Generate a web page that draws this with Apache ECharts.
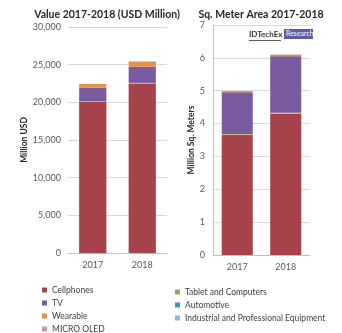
<!DOCTYPE html>
<html><head><meta charset="utf-8">
<script src="https://cdn.jsdelivr.net/npm/echarts@6/dist/echarts.min.js"></script>
<style>html,body{margin:0;padding:0;background:#fff}#c{width:342px;height:333px}</style>
</head><body><div id="c"></div>
<script>
const years = ['2017', '2018'];
const valueTicks = [0, 5000, 10000, 15000, 20000, 25000, 30000];
const areaTicks = [0, 1, 2, 3, 4, 5, 6, 7];
// Value (USD Million)
const valCellphones = [20100, 22500];
const valTablet = [80, 80];
const valTV = [1750, 2150];
const valWearable = [500, 700];
const valMicroOled = [0, 0];
const valAutomotive = [0, 0];
const valIndustrial = [0, 0];
// Area (Million Sq. Meters)
const areaCellphones = [3.65, 4.3];
const areaTablet = [0.03, 0.03];
const areaTV = [1.27, 1.72];
const areaWearable = [0.04, 0.05];
const areaMicroOled = [0, 0];
const areaAutomotive = [0, 0];
const areaIndustrial = [0, 0];

const names = ['Cellphones', 'Tablet and Computers', 'TV', 'Wearable', 'MICRO OLED', 'Automotive', 'Industrial and Professional Equipment'];
const colors = {
  'Cellphones': '#A5424A',
  'Tablet and Computers': '#C8B27A',
  'TV': '#7A5BA0',
  'Wearable': '#E3914A',
  'MICRO OLED': '#C49AA4',
  'Automotive': '#3E9BAE',
  'Industrial and Professional Equipment': '#93B7D0'
};
const legendColors = {'Tablet and Computers': '#8FA85A'};
const valData = [valCellphones, valTablet, valTV, valWearable, valMicroOled, valAutomotive, valIndustrial];
const areaData = [areaCellphones, areaTablet, areaTV, areaWearable, areaMicroOled, areaAutomotive, areaIndustrial];

const font = "Lato, 'Liberation Sans', sans-serif";
const series = [];
names.forEach((n, i) => {
  series.push({name: n, type: 'bar', stack: 'v', xAxisIndex: 0, yAxisIndex: 0, barWidth: '55%',
    data: valData[i], itemStyle: {color: colors[n]}});
  series.push({name: n, type: 'bar', stack: 'a', xAxisIndex: 1, yAxisIndex: 1, barWidth: '64%',
    data: areaData[i], itemStyle: {color: colors[n]}});
});

const chart = echarts.init(document.getElementById('c'));
const axisLbl = {color: '#595959', fontSize: 9, fontFamily: font};
const legendText = {color: '#404040', fontSize: 8.5, lineHeight: 10, fontFamily: font};
chart.setOption({
  animation: false,
  title: [
    {text: 'Value 2017-2018 (USD Million)', left: 102, top: 4, textAlign: 'center',
     textStyle: {fontSize: 10.5, fontWeight: 'bold', color: '#262626', fontFamily: font}},
    {text: 'Sq. Meter Area 2017-2018', left: 256, top: 4, textAlign: 'center',
     textStyle: {fontSize: 10.5, fontWeight: 'bold', color: '#262626', fontFamily: font}}
  ],
  legend: [
    {data: [
      {name: 'Cellphones'}, {name: 'TV'}, {name: 'Wearable'}, {name: 'MICRO OLED'}],
     orient: 'vertical', left: 37, top: 280, height: 60, itemWidth: 5, itemHeight: 5, itemGap: 3,
     textStyle: legendText, selectedMode: false, icon: 'rect'},
    {data: [
      {name: 'Tablet and Computers', itemStyle: {color: legendColors['Tablet and Computers']}},
      {name: 'Automotive'}, {name: 'Industrial and Professional Equipment'}],
     orient: 'vertical', left: 170, top: 282, height: 60, itemWidth: 5, itemHeight: 5, itemGap: 3,
     textStyle: legendText, selectedMode: false, icon: 'rect'}
  ],
  grid: [
    {left: 68, right: 175, top: 27, height: 226},
    {left: 213, right: 32, top: 25, height: 230}
  ],
  xAxis: [
    {type: 'category', gridIndex: 0, data: years, axisTick: {show: false},
     axisLine: {lineStyle: {color: '#BFBFBF'}}, axisLabel: Object.assign({margin: 8}, axisLbl)},
    {type: 'category', gridIndex: 1, data: years, axisTick: {show: false},
     axisLine: {lineStyle: {color: '#BFBFBF'}}, axisLabel: Object.assign({margin: 8}, axisLbl)}
  ],
  yAxis: [
    {type: 'value', gridIndex: 0, min: valueTicks[0], max: valueTicks[valueTicks.length - 1], interval: 5000,
     name: 'Million USD', nameLocation: 'middle', nameGap: 31, nameRotate: 90,
     nameTextStyle: {fontSize: 8.5, fontWeight: 'bold', color: '#262626', fontFamily: font},
     axisLine: {show: false}, axisTick: {show: false},
     splitLine: {lineStyle: {color: '#D9D9D9'}},
     axisLabel: Object.assign({margin: 7, formatter: v => v.toLocaleString('en-US')}, axisLbl)},
    {type: 'value', gridIndex: 1, min: areaTicks[0], max: areaTicks[areaTicks.length - 1], interval: 1,
     name: 'Million Sq. Meters', nameLocation: 'middle', nameGap: 17, nameRotate: 90,
     nameTextStyle: {fontSize: 8.5, fontWeight: 'bold', color: '#262626', fontFamily: font},
     axisLine: {show: true, lineStyle: {color: '#BFBFBF'}}, axisTick: {show: false},
     splitLine: {lineStyle: {color: '#D9D9D9'}},
     axisLabel: Object.assign({margin: 8}, axisLbl)}
  ],
  graphic: [
    {type: 'text', left: 249, top: 30, style: {text: 'IDTechEx', fill: '#333', font: "bold 8px " + font}},
    {type: 'rect', shape: {x: 249, y: 40, width: 32, height: 0.8}, style: {fill: '#333'}},
    {type: 'rect', shape: {x: 284, y: 29, width: 29, height: 10}, style: {fill: '#5B5EA6'}},
    {type: 'text', left: 286, top: 30.5, style: {text: 'Research', font: "7px " + font, fill: '#fff'}}
  ],
  series: series
});
</script></body></html>
